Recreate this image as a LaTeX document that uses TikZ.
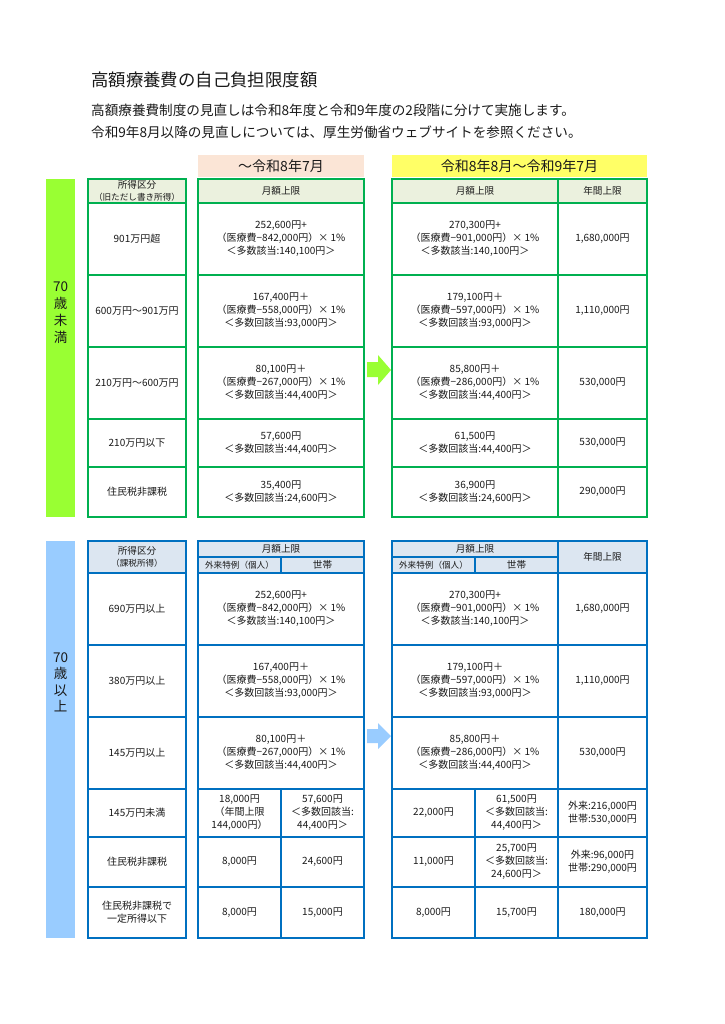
\documentclass[tikz,border=0pt]{standalone}
\usepackage{fontspec}
\setmainfont{Noto Sans CJK JP}
\definecolor{gline}{HTML}{00B050}
\definecolor{gbar}{HTML}{99FF33}
\definecolor{ghead}{HTML}{EBF1DE}
\definecolor{bline}{HTML}{0070C0}
\definecolor{bbar}{HTML}{99CCFF}
\definecolor{bhead}{HTML}{DCE6F1}
\definecolor{peach}{HTML}{FBE5D6}
\definecolor{yel}{HTML}{FFFF66}
\definecolor{txt}{HTML}{1A1A1A}
\newcommand\tabfont{\fontsize{10}{13}\selectfont}
\newcommand\hdfont{\fontsize{8.6}{11.5}\selectfont}
\newcommand\hdbig{\fontsize{9.6}{11.5}\selectfont}
\newcommand\tcell[7][]{\node[#1,minimum width={#5pt-#3pt},minimum height={#6pt-#4pt}] (#2) at ({(#3+#5)/2},{(#4+#6)/2}) {#7};}
\tikzset{
 cellg/.style={draw=gline, line width=1.2pt, fill=white, inner sep=0pt, align=center, font=\tabfont, text=txt},
 cellb/.style={cellg, draw=bline},
 headg/.style={cellg, fill=ghead},
 headb/.style={cellb, fill=bhead},
 outerg/.style={draw=gline, line width=2.6pt},
 outerb/.style={draw=bline, line width=2.6pt},
 period/.style={inner sep=0pt, minimum height=22pt, font=\fontsize{14}{16}\selectfont, text=txt},
 sidebar/.style={inner sep=0pt},
 sidelabel/.style={align=center, font=\fontsize{13.5}{17}\selectfont, text=txt},
}
\begin{document}
\begin{tikzpicture}[x=1pt,y=-1pt]
\useasboundingbox[fill=white] (0,0) rectangle (724,1024);
% titles
\node[anchor=west, inner sep=0pt, font=\fontsize{17.4}{20}\selectfont, text=txt] (title) at (91,80) {高額療養費の自己負担限度額};
\node[anchor=west, inner sep=0pt, font=\fontsize{13.6}{16}\selectfont, text=txt] (sub1) at (91,110) {高額療養費制度の見直しは令和8年度と令和9年度の2段階に分けて実施します。};
\node[anchor=west, inner sep=0pt, font=\fontsize{13.6}{16}\selectfont, text=txt] (sub2) at (91,132) {令和9年8月以降の見直しについては、厚生労働省ウェブサイトを参照ください。};
% period headers
\node[period, fill=peach, minimum width=166pt] (per1) at (281,166) {～令和8年7月};
\node[period, fill=yel, minimum width=255pt] (per2) at (519.5,166) {令和8年8月～令和9年7月};
% side bars
\node[sidebar, fill=gbar, minimum width=29pt, minimum height=338pt] (gbarn) at (60.5,348) {};
\node[sidelabel] (glab) at (60.5,313) {70\\歳\\未\\満};
\node[sidebar, fill=bbar, minimum width=29pt, minimum height=397pt] (bbarn) at (60.5,739.5) {};
\node[sidelabel, font=\fontsize{13.5}{16.4}\selectfont] (blab) at (60.5,682.5) {70\\歳\\以\\上};
% arrows
\fill[gbar] (367,362) -- (378,362) -- (378,355) -- (391,370) -- (378,385) -- (378,377) -- (367,377) -- cycle;
\fill[bbar] (367,729) -- (378,729) -- (378,723) -- (391,736) -- (378,749) -- (378,743) -- (367,743) -- cycle;

% ===== top: under 70 =====
% left column
\tcell[headg,font=\hdfont]{ga0}{88}{179}{186}{203}{{\hdbig 所得区分}\\（旧ただし書き所得）}
\tcell[cellg]{ga1}{88}{203}{186}{275}{901万円超}
\tcell[cellg]{ga2}{88}{275}{186}{347}{600万円～901万円}
\tcell[cellg]{ga3}{88}{347}{186}{419}{210万円～600万円}
\tcell[cellg]{ga4}{88}{419}{186}{467}{210万円以下}
\tcell[cellg]{ga5}{88}{467}{186}{517}{住民税非課税}
\draw[outerg] (88,179) rectangle (186,517);
% middle column
\tcell[headg,font=\hdbig]{gb0}{198}{179}{364}{203}{月額上限}
\tcell[cellg]{gb1}{198}{203}{364}{275}{252,600円+\\（医療費−842,000円）× 1\%\\＜多数該当:140,100円＞}
\tcell[cellg]{gb2}{198}{275}{364}{347}{167,400円＋\\（医療費−558,000円）× 1\%\\＜多数回該当:93,000円＞}
\tcell[cellg]{gb3}{198}{347}{364}{419}{80,100円＋\\（医療費−267,000円）× 1\%\\＜多数回該当:44,400円＞}
\tcell[cellg]{gb4}{198}{419}{364}{467}{57,600円\\＜多数回該当:44,400円＞}
\tcell[cellg]{gb5}{198}{467}{364}{517}{35,400円\\＜多数回該当:24,600円＞}
\draw[outerg] (198,179) rectangle (364,517);
% right columns
\tcell[headg,font=\hdbig]{gc0}{392}{179}{558}{203}{月額上限}
\tcell[headg,font=\hdbig]{gd0}{558}{179}{647}{203}{年間上限}
\tcell[cellg]{gc1}{392}{203}{558}{275}{270,300円+\\（医療費−901,000円）× 1\%\\＜多数該当:140,100円＞}
\tcell[cellg]{gd1}{558}{203}{647}{275}{1,680,000円}
\tcell[cellg]{gc2}{392}{275}{558}{347}{179,100円＋\\（医療費−597,000円）× 1\%\\＜多数回該当:93,000円＞}
\tcell[cellg]{gd2}{558}{275}{647}{347}{1,110,000円}
\tcell[cellg]{gc3}{392}{347}{558}{419}{85,800円＋\\（医療費−286,000円）× 1\%\\＜多数回該当:44,400円＞}
\tcell[cellg]{gd3}{558}{347}{647}{419}{530,000円}
\tcell[cellg]{gc4}{392}{419}{558}{467}{61,500円\\＜多数回該当:44,400円＞}
\tcell[cellg]{gd4}{558}{419}{647}{467}{530,000円}
\tcell[cellg]{gc5}{392}{467}{558}{517}{36,900円\\＜多数回該当:24,600円＞}
\tcell[cellg]{gd5}{558}{467}{647}{517}{290,000円}
\draw[outerg] (392,179) rectangle (647,517);
\draw[outerg] (558,179) -- (558,517);

% ===== bottom: 70 and over =====
% left column
\tcell[headb,font=\hdfont]{ba0}{88}{541}{186}{573}{{\hdbig 所得区分}\\（課税所得）}
\tcell[cellb]{ba1}{88}{573}{186}{645}{690万円以上}
\tcell[cellb]{ba2}{88}{645}{186}{717}{380万円以上}
\tcell[cellb]{ba3}{88}{717}{186}{789}{145万円以上}
\tcell[cellb]{ba4}{88}{789}{186}{837}{145万円未満}
\tcell[cellb]{ba5}{88}{837}{186}{887}{住民税非課税}
\tcell[cellb]{ba6}{88}{887}{186}{938}{住民税非課税で\\一定所得以下}
\draw[outerb] (88,541) rectangle (186,938);
% middle
\tcell[headb,font=\hdbig]{bb0}{198}{541}{364}{557}{月額上限}
\tcell[headb,font=\hdfont]{bb0a}{198}{557}{281}{573}{外来特例（個人）}
\tcell[headb,font=\hdbig]{bb0b}{281}{557}{364}{573}{世帯}
\tcell[cellb]{bb1}{198}{573}{364}{645}{252,600円+\\（医療費−842,000円）× 1\%\\＜多数該当:140,100円＞}
\tcell[cellb]{bb2}{198}{645}{364}{717}{167,400円＋\\（医療費−558,000円）× 1\%\\＜多数回該当:93,000円＞}
\tcell[cellb]{bb3}{198}{717}{364}{789}{80,100円＋\\（医療費−267,000円）× 1\%\\＜多数回該当:44,400円＞}
\tcell[cellb]{bb4a}{198}{789}{281}{837}{18,000円\\（年間上限\\144,000円）}
\tcell[cellb]{bb4b}{281}{789}{364}{837}{57,600円\\＜多数回該当:\\44,400円＞}
\tcell[cellb]{bb5a}{198}{837}{281}{887}{8,000円}
\tcell[cellb]{bb5b}{281}{837}{364}{887}{24,600円}
\tcell[cellb]{bb6a}{198}{887}{281}{938}{8,000円}
\tcell[cellb]{bb6b}{281}{887}{364}{938}{15,000円}
\draw[outerb] (198,541) rectangle (364,938);
% right
\tcell[headb,font=\hdbig]{bc0}{392}{541}{558}{557}{月額上限}
\tcell[headb,font=\hdfont]{bc0a}{392}{557}{475}{573}{外来特例（個人）}
\tcell[headb,font=\hdbig]{bc0b}{475}{557}{558}{573}{世帯}
\tcell[headb,font=\hdbig]{bd0}{558}{541}{647}{573}{年間上限}
\tcell[cellb]{bc1}{392}{573}{558}{645}{270,300円+\\（医療費−901,000円）× 1\%\\＜多数該当:140,100円＞}
\tcell[cellb]{bd1}{558}{573}{647}{645}{1,680,000円}
\tcell[cellb]{bc2}{392}{645}{558}{717}{179,100円＋\\（医療費−597,000円）× 1\%\\＜多数回該当:93,000円＞}
\tcell[cellb]{bd2}{558}{645}{647}{717}{1,110,000円}
\tcell[cellb]{bc3}{392}{717}{558}{789}{85,800円＋\\（医療費−286,000円）× 1\%\\＜多数回該当:44,400円＞}
\tcell[cellb]{bd3}{558}{717}{647}{789}{530,000円}
\tcell[cellb]{bc4a}{392}{789}{475}{837}{22,000円}
\tcell[cellb]{bc4b}{475}{789}{558}{837}{61,500円\\＜多数回該当:\\44,400円＞}
\tcell[cellb]{bd4}{558}{789}{647}{837}{外来:216,000円\\世帯:530,000円}
\tcell[cellb]{bc5a}{392}{837}{475}{887}{11,000円}
\tcell[cellb]{bc5b}{475}{837}{558}{887}{25,700円\\＜多数回該当:\\24,600円＞}
\tcell[cellb]{bd5}{558}{837}{647}{887}{外来:96,000円\\世帯:290,000円}
\tcell[cellb]{bc6a}{392}{887}{475}{938}{8,000円}
\tcell[cellb]{bc6b}{475}{887}{558}{938}{15,700円}
\tcell[cellb]{bd6}{558}{887}{647}{938}{180,000円}
\draw[outerb] (392,541) rectangle (647,938);
\draw[outerb] (558,541) -- (558,938);
\end{tikzpicture}
\end{document}
